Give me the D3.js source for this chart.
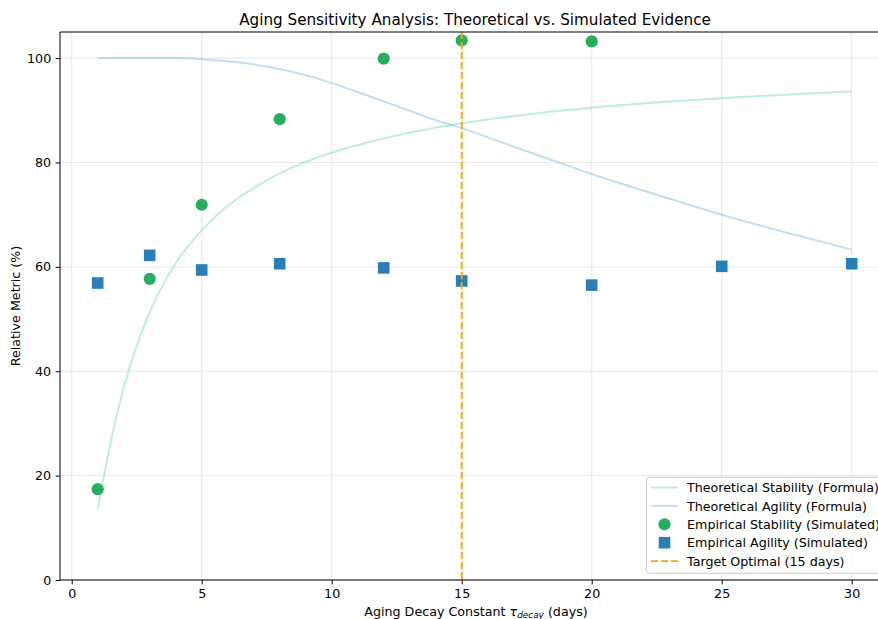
<!DOCTYPE html>
<html>
<head>
<meta charset="utf-8">
<script src="https://cdn.jsdelivr.net/npm/d3@7"></script>
<style>
  html, body { margin: 0; padding: 0; background: #ffffff; }
  svg { display: block; font-family: "DejaVu Sans", sans-serif; }
</style>
</head>
<body>
<svg id="chart" width="878" height="619"></svg>
<script>
// Aging decay constant (days) for the simulated runs
const empStabilityX = [1, 3, 5, 8, 12, 15, 20];
const empStabilityY = [17.4, 57.7, 71.9, 88.3, 99.9, 103.4, 103.2];

const empAgilityX = [1, 3, 5, 8, 12, 15, 20, 25, 30];
const empAgilityY = [56.9, 62.2, 59.4, 60.6, 59.8, 57.3, 56.5, 60.1, 60.6];

// Theoretical curves, sampled along the decay constant
const theoStabilityX = [1, 1.5, 2, 2.5, 3, 3.5, 4, 5, 6, 7, 8, 10, 12, 15, 18, 20, 25, 30];
const theoStabilityY = [13.5, 26.4, 36.8, 44.9, 51.3, 56.5, 60.7, 67.0, 71.7, 75.1, 77.9, 81.9, 84.6, 87.5, 89.5, 90.5, 92.3, 93.6];

const theoAgilityX = [1, 2, 3, 4, 5, 6, 7, 8, 9, 10, 11, 12, 13, 14, 15, 16, 18, 20, 22, 25, 28, 30];
const theoAgilityY = [100, 100, 100, 100, 99.8, 99.4, 98.8, 97.9, 96.7, 95.2, 93.5, 91.7, 89.9, 88.1, 86.6, 84.8, 81.3, 77.8, 74.6, 70.0, 65.9, 63.3];

const targetOptimal = 15;

const xTicks = [0, 5, 10, 15, 20, 25, 30];
const yTicks = [0, 20, 40, 60, 80, 100];

const legendLabels = [
  "Theoretical Stability (Formula)",
  "Theoretical Agility (Formula)",
  "Empirical Stability (Simulated)",
  "Empirical Agility (Simulated)",
  "Target Optimal (15 days)"
];

const colors = {
  theoStab: "#2ecc71",
  theoAgil: "#3498db",
  empStab: "#27ae60",
  empAgil: "#2980b9",
  target: "#ffa500"
};

const fontSmall = "12.7px";
const fontTitle = "15.2px";

const svg = d3.select("#chart");
const plotLeft = 60, plotTop = 32, plotBottom = 580, plotRight = 889.4;

const x = d3.scaleLinear().domain([-0.45, 31.45]).range([plotLeft, plotRight]);
const y = d3.scaleLinear().domain([0, 105]).range([plotBottom, plotTop]);

const plot = svg.append("g");

// grid
plot.append("g").selectAll("line").data(xTicks).join("line")
  .attr("x1", d => x(d)).attr("x2", d => x(d))
  .attr("y1", plotTop).attr("y2", plotBottom)
  .attr("stroke", "#b0b0b0").attr("stroke-opacity", 0.3).attr("stroke-width", 1);
plot.append("g").selectAll("line").data(yTicks).join("line")
  .attr("x1", plotLeft).attr("x2", plotRight)
  .attr("y1", d => y(d)).attr("y2", d => y(d))
  .attr("stroke", "#b0b0b0").attr("stroke-opacity", 0.3).attr("stroke-width", 1);

// theoretical curves
const line = d3.line().x(d => x(d[0])).y(d => y(d[1])).curve(d3.curveMonotoneX);
plot.append("path")
  .attr("d", line(d3.zip(theoStabilityX, theoStabilityY)))
  .attr("fill", "none").attr("stroke", colors.theoStab)
  .attr("stroke-opacity", 0.3).attr("stroke-width", 2);
plot.append("path")
  .attr("d", line(d3.zip(theoAgilityX, theoAgilityY)))
  .attr("fill", "none").attr("stroke", colors.theoAgil)
  .attr("stroke-opacity", 0.3).attr("stroke-width", 2);

// empirical points
plot.append("g").selectAll("circle").data(d3.zip(empStabilityX, empStabilityY)).join("circle")
  .attr("cx", d => x(d[0])).attr("cy", d => y(d[1])).attr("r", 6.1)
  .attr("fill", colors.empStab);
const sq = 11.6;
plot.append("g").selectAll("rect").data(d3.zip(empAgilityX, empAgilityY)).join("rect")
  .attr("x", d => x(d[0]) - sq / 2).attr("y", d => y(d[1]) - sq / 2)
  .attr("width", sq).attr("height", sq)
  .attr("fill", colors.empAgil);

// target optimal marker line
plot.append("line")
  .attr("x1", x(targetOptimal)).attr("x2", x(targetOptimal))
  .attr("y1", plotTop).attr("y2", plotBottom)
  .attr("stroke", colors.target).attr("stroke-width", 1.9)
  .attr("stroke-dasharray", "7,3");

// spines
const spine = svg.append("g").attr("stroke", "#000").attr("stroke-width", 1);
spine.append("line").attr("x1", plotLeft).attr("x2", plotLeft).attr("y1", plotTop).attr("y2", plotBottom);
spine.append("line").attr("x1", plotLeft).attr("x2", plotRight).attr("y1", plotBottom).attr("y2", plotBottom);
spine.append("line").attr("x1", plotLeft).attr("x2", plotRight).attr("y1", plotTop).attr("y2", plotTop);

// axes
const xAxis = d3.axisBottom(x).tickValues(xTicks).tickSize(4.4).tickPadding(4.4).tickFormat(d3.format("d"));
const yAxis = d3.axisLeft(y).tickValues(yTicks).tickSize(4.4).tickPadding(4.4).tickFormat(d3.format("d"));
const gx = svg.append("g").attr("transform", `translate(0,${plotBottom})`).call(xAxis);
const gy = svg.append("g").attr("transform", `translate(${plotLeft},0)`).call(yAxis);
[gx, gy].forEach(g => {
  g.select(".domain").remove();
  g.selectAll(".tick line").attr("stroke", "#000").attr("stroke-width", 1);
  g.selectAll(".tick text").attr("fill", "#000").style("font-size", fontSmall)
    .style("font-family", "DejaVu Sans, sans-serif");
});

// title
svg.append("text")
  .attr("x", 475).attr("y", 24.5)
  .attr("text-anchor", "middle").style("font-size", fontTitle).attr("fill", "#000")
  .text("Aging Sensitivity Analysis: Theoretical vs. Simulated Evidence");

// axis labels
const xl = svg.append("text")
  .attr("x", 476).attr("y", 616)
  .attr("text-anchor", "middle").style("font-size", fontSmall).attr("fill", "#000");
xl.append("tspan").text("Aging Decay Constant ");
xl.append("tspan").style("font-style", "italic").text("τ");
xl.append("tspan").style("font-style", "italic").style("font-size", "8.9px").attr("dy", 2.3).text("decay");
xl.append("tspan").attr("dy", -2.3).text(" (days)");

svg.append("text")
  .attr("transform", "translate(20,306) rotate(-90)")
  .attr("text-anchor", "middle").style("font-size", fontSmall).attr("fill", "#000")
  .text("Relative Metric (%)");

// legend
const lg = svg.append("g");
lg.append("rect")
  .attr("x", 646.5).attr("y", 477.3).attr("width", 250).attr("height", 96)
  .attr("rx", 3).attr("fill", "#fff").attr("fill-opacity", 0.8)
  .attr("stroke", "#cccccc").attr("stroke-width", 1);
const rowY = i => 487.5 + i * 18.4;
const hx0 = 651, hx1 = 678, hxc = 664.5;
lg.append("line").attr("x1", hx0).attr("x2", hx1).attr("y1", rowY(0)).attr("y2", rowY(0))
  .attr("stroke", colors.theoStab).attr("stroke-opacity", 0.3).attr("stroke-width", 2);
lg.append("line").attr("x1", hx0).attr("x2", hx1).attr("y1", rowY(1)).attr("y2", rowY(1))
  .attr("stroke", colors.theoAgil).attr("stroke-opacity", 0.3).attr("stroke-width", 2);
lg.append("circle").attr("cx", hxc).attr("cy", rowY(2)).attr("r", 6.1).attr("fill", colors.empStab);
lg.append("rect").attr("x", hxc - sq / 2).attr("y", rowY(3) - sq / 2).attr("width", sq).attr("height", sq)
  .attr("fill", colors.empAgil);
lg.append("line").attr("x1", hx0).attr("x2", hx1).attr("y1", rowY(4)).attr("y2", rowY(4))
  .attr("stroke", colors.target).attr("stroke-width", 1.9).attr("stroke-dasharray", "7,3");
lg.selectAll("text.lab").data(legendLabels).join("text")
  .attr("class", "lab")
  .attr("x", 687).attr("y", (d, i) => rowY(i) + 4.6)
  .style("font-size", fontSmall).attr("fill", "#000")
  .text(d => d);
</script>
</body>
</html>
